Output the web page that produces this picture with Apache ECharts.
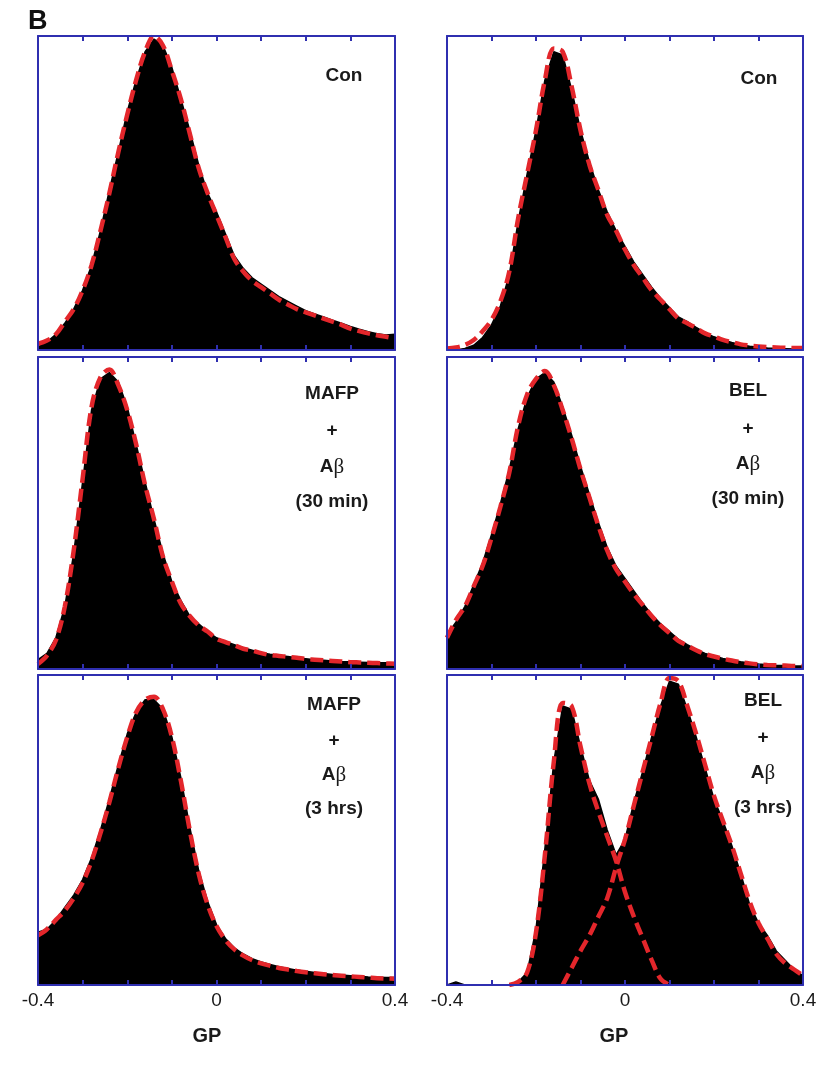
<!DOCTYPE html>
<html><head><meta charset="utf-8">
<script src="https://cdn.jsdelivr.net/npm/echarts@6/dist/echarts.min.js"></script>
<style>html,body{margin:0;padding:0;background:#fff}#chart{width:822px;height:1071px}</style>
</head><body><div id="chart"></div>
<script>
// GP bin centres
const gp = [-0.40,-0.38,-0.36,-0.34,-0.32,-0.30,-0.28,-0.26,-0.24,-0.22,-0.20,-0.18,-0.16,-0.14,-0.12,-0.10,-0.08,-0.06,-0.04,-0.02,0,0.02,0.04,0.06,0.08,0.10,0.12,0.14,0.16,0.18,0.20,0.22,0.24,0.26,0.28,0.30,0.32,0.34,0.36,0.38,0.40];
const xTickValues = [-0.4, 0, 0.4];
const xTickLabels = ['-0.4', '0', '0.4'];
const xAxisTitle = 'GP';
const figureLetter = 'B';

// Con (left)
const histConL = [0.01,0.025,0.05,0.085,0.13,0.19,0.27,0.38,0.51,0.63,0.76,0.86,0.95,0.99,0.97,0.90,0.80,0.70,0.59,0.50,0.44,0.37,0.30,0.26,0.23,0.21,0.19,0.17,0.155,0.14,0.125,0.115,0.105,0.095,0.085,0.075,0.066,0.058,0.052,0.048,0.05];
const fitConL  = [0.02,0.03,0.05,0.09,0.13,0.19,0.27,0.38,0.50,0.63,0.75,0.86,0.95,1.00,0.97,0.89,0.80,0.69,0.58,0.50,0.43,0.36,0.29,0.25,0.22,0.20,0.18,0.16,0.145,0.13,0.12,0.11,0.10,0.09,0.08,0.068,0.06,0.053,0.047,0.042,0.037];
// Con (right)
const histConR = [0,0,0.005,0.015,0.04,0.08,0.14,0.24,0.41,0.56,0.70,0.86,0.95,0.94,0.83,0.70,0.60,0.51,0.44,0.38,0.33,0.28,0.24,0.20,0.165,0.135,0.105,0.09,0.072,0.055,0.042,0.032,0.024,0.017,0.012,0.009,0.006,0.005,0.004,0.003,0.003];
const fitConR  = [0.005,0.008,0.016,0.032,0.06,0.096,0.155,0.25,0.42,0.56,0.70,0.86,0.96,0.95,0.84,0.70,0.59,0.51,0.43,0.38,0.32,0.27,0.23,0.19,0.16,0.13,0.10,0.085,0.07,0.053,0.043,0.032,0.025,0.018,0.014,0.011,0.009,0.008,0.007,0.006,0.006];
// MAFP + Abeta 30 min
const histMafp30 = [0.03,0.05,0.10,0.20,0.37,0.60,0.83,0.93,0.95,0.92,0.84,0.72,0.60,0.48,0.37,0.28,0.22,0.17,0.145,0.12,0.10,0.088,0.078,0.068,0.06,0.052,0.047,0.043,0.04,0.036,0.033,0.03,0.028,0.026,0.024,0.023,0.022,0.021,0.02,0.02,0.02];
const fitMafp30  = [0.016,0.043,0.092,0.20,0.38,0.61,0.84,0.935,0.96,0.91,0.83,0.72,0.59,0.48,0.36,0.28,0.21,0.17,0.14,0.12,0.097,0.086,0.076,0.065,0.059,0.051,0.045,0.042,0.039,0.036,0.032,0.03,0.028,0.026,0.024,0.022,0.021,0.02,0.019,0.018,0.017];
// BEL + Abeta 30 min
const histBel30 = [0.11,0.15,0.20,0.27,0.34,0.43,0.53,0.64,0.77,0.87,0.93,0.95,0.92,0.84,0.75,0.65,0.56,0.47,0.39,0.33,0.29,0.25,0.21,0.175,0.145,0.12,0.095,0.078,0.063,0.05,0.042,0.034,0.028,0.023,0.019,0.016,0.014,0.012,0.011,0.01,0.01];
const fitBel30  = [0.10,0.157,0.20,0.265,0.33,0.42,0.52,0.63,0.78,0.88,0.93,0.955,0.91,0.83,0.74,0.64,0.55,0.46,0.38,0.32,0.28,0.24,0.205,0.17,0.14,0.115,0.09,0.075,0.06,0.048,0.04,0.033,0.027,0.022,0.018,0.015,0.013,0.012,0.011,0.01,0.01];
// MAFP + Abeta 3 hrs
const histMafp3h = [0.17,0.18,0.21,0.25,0.29,0.34,0.41,0.50,0.60,0.71,0.81,0.88,0.92,0.92,0.89,0.80,0.67,0.51,0.37,0.27,0.195,0.15,0.12,0.10,0.085,0.074,0.066,0.059,0.053,0.048,0.044,0.04,0.037,0.034,0.032,0.03,0.028,0.026,0.025,0.024,0.024];
const fitMafp3h  = [0.16,0.18,0.21,0.24,0.28,0.33,0.40,0.49,0.59,0.70,0.80,0.88,0.92,0.93,0.89,0.80,0.66,0.50,0.36,0.26,0.19,0.145,0.115,0.095,0.08,0.07,0.062,0.055,0.05,0.045,0.041,0.038,0.035,0.032,0.03,0.028,0.026,0.024,0.022,0.021,0.02];
// BEL + Abeta 3 hrs (two fitted components)
const histBel3h = [0,0.01,0,0,0,0,0,0,0.01,0.04,0.18,0.44,0.72,0.90,0.89,0.77,0.66,0.60,0.50,0.42,0.47,0.59,0.69,0.80,0.90,0.98,0.97,0.89,0.80,0.70,0.60,0.53,0.45,0.36,0.26,0.20,0.16,0.11,0.08,0.05,0.03];
const fitBel3hA = [null,null,null,null,null,null,null,0.0,0.01,0.04,0.17,0.42,0.72,0.91,0.90,0.77,0.65,0.56,0.48,0.40,0.30,0.22,0.15,0.08,0.02,0.0,null,null,null,null,null,null,null,null,null,null,null,null,null,null,null];
const fitBel3hB = [null,null,null,null,null,null,null,null,null,null,null,null,null,0.0,0.055,0.11,0.16,0.22,0.28,0.38,0.47,0.58,0.69,0.80,0.91,0.99,0.98,0.90,0.81,0.71,0.61,0.53,0.45,0.36,0.27,0.20,0.15,0.10,0.07,0.05,0.03];

const panelLabels = [
  ['Con'],
  ['Con'],
  ['MAFP', '+', 'Aβ', '(30 min)'],
  ['BEL', '+', 'Aβ', '(30 min)'],
  ['MAFP', '+', 'Aβ', '(3 hrs)'],
  ['BEL', '+', 'Aβ', '(3 hrs)']
];

const panels = [
  {hist: histConL, fits: [fitConL]},
  {hist: histConR, fits: [fitConR]},
  {hist: histMafp30, fits: [fitMafp30]},
  {hist: histBel30, fits: [fitBel30]},
  {hist: histMafp3h, fits: [fitMafp3h]},
  {hist: histBel3h, fits: [fitBel3hA, fitBel3hB]}
];

// layout
const BLUE = '#2f2fb0';
const RED = '#e3262b';
const FONT = 'Liberation Sans, Arial, sans-serif';
const cols = [{left: 38, width: 357}, {left: 447, width: 356}];
const rows = [{top: 36, height: 314}, {top: 357, height: 312}, {top: 675, height: 310}];
const labelPos = [
  {cx: 344, ys: [76]},
  {cx: 759, ys: [79]},
  {cx: 332, ys: [394, 431, 467, 502]},
  {cx: 748, ys: [391, 429, 464, 499]},
  {cx: 334, ys: [705, 741, 775, 809]},
  {cx: 763, ys: [701, 738, 773, 808]}
];

function pairs(vals) {
  const out = [];
  vals.forEach((v, i) => { if (v !== null) out.push([gp[i], v]); });
  return out;
}
function tickFmt(v) {
  const k = xTickValues.findIndex(t => Math.abs(t - v) < 1e-6);
  return k >= 0 ? xTickLabels[k] : '';
}

const grid = [], xAxis = [], yAxis = [], series = [], graphic = [];
panels.forEach((p, i) => {
  const r = Math.floor(i / 2), c = i % 2;
  grid.push({left: cols[c].left, width: cols[c].width, top: rows[r].top, height: rows[r].height, containLabel: false, show: false});
  const isBottom = r === 2;
  const axLine = {show: true, onZero: false, lineStyle: {color: BLUE, width: 2}};
  const tick = {show: true, inside: true, length: 5, lineStyle: {color: BLUE, width: 2}};
  xAxis.push({gridIndex: i, type: 'value', min: -0.4, max: 0.4, interval: 0.1, position: 'bottom', z: 10,
    axisLine: axLine, axisTick: tick, splitLine: {show: false},
    axisLabel: {show: isBottom, formatter: tickFmt, fontSize: 19, color: '#1a1a1a', margin: 6, fontFamily: FONT, showMinLabel: true, showMaxLabel: true}});
  xAxis.push({gridIndex: i, type: 'value', min: -0.4, max: 0.4, interval: 0.1, position: 'top', z: 10,
    axisLine: axLine, axisTick: tick, splitLine: {show: false}, axisLabel: {show: false}});
  yAxis.push({gridIndex: i, type: 'value', min: 0, max: 1, position: 'left', z: 10,
    axisLine: axLine, axisTick: {show: false}, splitLine: {show: false}, axisLabel: {show: false}});
  yAxis.push({gridIndex: i, type: 'value', min: 0, max: 1, position: 'right', z: 10,
    axisLine: axLine, axisTick: {show: false}, splitLine: {show: false}, axisLabel: {show: false}});
  series.push({type: 'line', xAxisIndex: 2 * i, yAxisIndex: 2 * i, data: pairs(p.hist), symbol: 'none',
    lineStyle: {color: '#000', width: 1.5}, areaStyle: {color: '#000', opacity: 1}, z: 2, animation: false});
  p.fits.forEach(f => {
    series.push({type: 'line', xAxisIndex: 2 * i, yAxisIndex: 2 * i, data: pairs(f), symbol: 'none', smooth: 0.35,
      lineStyle: {color: RED, width: 4.5, type: [13, 6]}, z: 3, animation: false});
  });
  const lp = labelPos[i];
  panelLabels[i].forEach((line, k) => {
    const hasBeta = line.indexOf('β') >= 0;
    graphic.push({type: 'text', z: 20, x: lp.cx, y: lp.ys[k], style: {
      text: hasBeta ? line.replace('β', '{b|β}') : line,
      rich: {b: {fontFamily: 'Liberation Serif, DejaVu Serif, serif', fontWeight: 'normal', fontSize: 21, fill: '#1a1a1a'}},
      fontFamily: FONT, fontWeight: 'bold', fontSize: 19, fill: '#1a1a1a',
      align: 'center', verticalAlign: 'middle'}});
  });
});
// axis titles
[{x: 207, y: 1036}, {x: 614, y: 1036}].forEach(pos => {
  graphic.push({type: 'text', x: pos.x, y: pos.y, style: {text: xAxisTitle, fontFamily: FONT, fontWeight: 'bold', fontSize: 20, fill: '#1a1a1a', align: 'center', verticalAlign: 'middle'}});
});
graphic.push({type: 'text', x: 28, y: 22, style: {text: figureLetter, fontFamily: FONT, fontWeight: 'bold', fontSize: 27, fill: '#111', align: 'left', verticalAlign: 'middle'}});

const chart = echarts.init(document.getElementById('chart'), null, {renderer: 'canvas'});
chart.setOption({animation: false, backgroundColor: '#fff', grid, xAxis, yAxis, series, graphic});
</script>
</body></html>
